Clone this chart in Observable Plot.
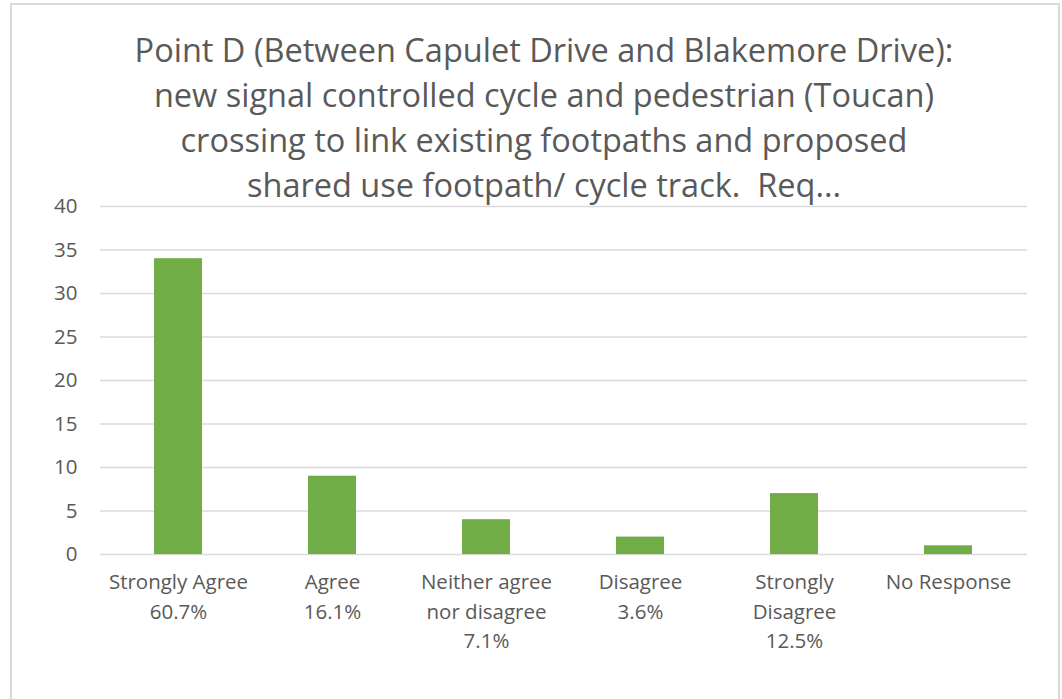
<!DOCTYPE html>
<html>
<head>
<meta charset="utf-8">
<script src="https://cdn.jsdelivr.net/npm/d3@7"></script>
<script src="https://cdn.jsdelivr.net/npm/@observablehq/plot@0.6"></script>
<style>
  html, body { margin: 0; padding: 0; background: #fff; }
  #wrap { position: relative; width: 1062px; height: 699px; overflow: hidden; font-family: "Open Sans", sans-serif; }
  #frame { position: absolute; left: 10px; top: 3px; width: 1046px; height: 720px; border: 2px solid #d9d9d9; }
  #title { position: absolute; left: 0px; width: 1088px; top: 27px; text-align: center; color: #595959; font-size: 32.5px; line-height: 45px; white-space: pre; }
  #chart { position: absolute; left: 0; top: 0; }
</style>
</head>
<body>
<div id="wrap">
  <div id="frame"></div>
  <div id="chart"></div>
  <div id="title"></div>
</div>
<script>
const titleLines = [
  "Point D (Between Capulet Drive and Blakemore Drive):",
  "new signal controlled cycle and pedestrian (Toucan)",
  "crossing to link existing footpaths and proposed",
  "shared use footpath/ cycle track.  Req..."
];
const categories = ["Strongly Agree", "Agree", "Neither agree nor disagree", "Disagree", "Strongly Disagree", "No Response"];
const categoryLabels = ["Strongly Agree", "Agree", "Neither agree\nnor disagree", "Disagree", "Strongly\nDisagree", "No Response"];
const percents = ["60.7%", "16.1%", "7.1%", "3.6%", "12.5%", ""];
const counts = [34, 9, 4, 2, 7, 1];
const yTicks = [0, 5, 10, 15, 20, 25, 30, 35, 40];

titleLines.forEach(l => {
  const d = document.createElement("div");
  d.textContent = l;
  document.getElementById("title").appendChild(d);
});

const data = categories.map((c, i) => ({category: c, count: counts[i]}));
const labelOf = new Map(categories.map((c, i) => [c, percents[i] ? categoryLabels[i] + "\n" + percents[i] : categoryLabels[i]]));

const chart = Plot.plot({
  width: 1062,
  height: 699,
  marginLeft: 100,
  marginRight: 35,
  marginTop: 206,
  marginBottom: 145,
  style: {fontFamily: "Open Sans, sans-serif", background: "transparent", color: "#595959"},
  x: {domain: categories, paddingInner: 0.687, paddingOuter: 0.3435},
  y: {domain: [0, 40]},
  marks: [
    Plot.ruleY(yTicks, {stroke: "#d9d9d9", strokeWidth: 1.6}),
    Plot.barY(data, {x: "category", y: "count", fill: "#70ad47"}),
    Plot.axisY({ticks: yTicks, tickSize: 0, tickPadding: 23, fontSize: 20.5, fill: "#595959", label: null}),
    Plot.axisX({tickSize: 0, tickPadding: 14, fontSize: 20.5, fill: "#595959", lineHeight: 1.44, tickFormat: d => labelOf.get(d), label: null})
  ]
});
document.getElementById("chart").appendChild(chart);
</script>
</body>
</html>
